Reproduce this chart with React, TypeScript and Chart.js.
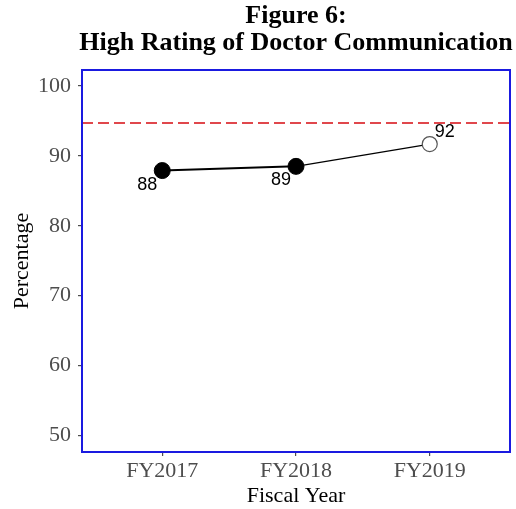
import React, { useEffect, useRef } from "react";
import { Chart, registerables } from "chart.js";

Chart.register(...registerables);

const titleLines = ["Figure 6:", "High Rating of Doctor Communication"];
const categories = ["FY2017", "FY2018", "FY2019"];
const values = [87.9, 88.5, 91.7];
const valueLabels = ["88", "89", "92"];
const filled = [true, true, false];
const benchmark = 94.7;
const yTicks = [50, 60, 70, 80, 90, 100];
const yMin = 47.6;
const yMax = 102.3;
const xTitle = "Fiscal Year";
const yTitle = "Percentage";

const SERIF = "'Liberation Serif', 'Times New Roman', serif";
const SANS = "'Liberation Sans', Arial, sans-serif";

const decorPlugin = {
  id: "decor",
  beforeDatasetsDraw(chart: any) {
    const { ctx, chartArea, scales } = chart;
    const y = scales.y.getPixelForValue(benchmark);
    ctx.save();
    ctx.strokeStyle = "#e0474c";
    ctx.lineWidth = 2;
    ctx.setLineDash([11, 5]);
    ctx.beginPath();
    ctx.moveTo(chartArea.left, y);
    ctx.lineTo(chartArea.right, y);
    ctx.stroke();
    ctx.restore();
  },
  afterDatasetsDraw(chart: any) {
    const { ctx, chartArea } = chart;
    const meta = chart.getDatasetMeta(0);
    ctx.save();
    ctx.fillStyle = "#000";
    ctx.font = `18px ${SANS}`;
    ctx.textAlign = "center";
    ctx.textBaseline = "middle";
    meta.data.forEach((pt: any, i: number) => {
      const above = !filled[i];
      const dx = above ? 15 : -15;
      const dy = above ? -12 : 14;
      ctx.fillText(valueLabels[i], pt.x + dx, pt.y + dy);
    });
    // panel border
    ctx.strokeStyle = "#1a1ae0";
    ctx.lineWidth = 2;
    ctx.setLineDash([]);
    ctx.strokeRect(chartArea.left, chartArea.top, chartArea.right - chartArea.left, chartArea.bottom - chartArea.top);
    // titles
    const cx = (chartArea.left + chartArea.right) / 2;
    ctx.font = `bold 26px ${SERIF}`;
    ctx.textAlign = "center";
    ctx.textBaseline = "alphabetic";
    ctx.fillText(titleLines[0], cx, 23);
    ctx.fillText(titleLines[1], cx, 50);
    ctx.font = `22px ${SERIF}`;
    ctx.fillText(xTitle, cx, 502);
    ctx.translate(22, (chartArea.top + chartArea.bottom) / 2);
    ctx.rotate(-Math.PI / 2);
    ctx.textBaseline = "middle";
    ctx.fillText(yTitle, 0, 0);
    ctx.restore();
  },
};

export default function App() {
  const ref = useRef<HTMLCanvasElement>(null);
  useEffect(() => {
    document.body.style.margin = "0";
    const chart = new Chart(ref.current!, {
      type: "line",
      data: {
        datasets: [
          {
            data: values.map((v, i) => ({ x: i + 1, y: v })),
            borderColor: "#000",
            borderWidth: 2,
            segment: {
              borderWidth: (c: any) => (c.p1DataIndex === 2 ? 1.3 : 2),
            },
            pointRadius: filled.map((f) => (f ? 8 : 7.5)),
            pointBackgroundColor: filled.map((f) => (f ? "#000" : "#fff")),
            pointBorderColor: filled.map((f) => (f ? "#000" : "#555")),
            pointBorderWidth: filled.map((f) => (f ? 1 : 1.2)),
            fill: false,
          },
        ],
      },
      options: {
        responsive: false,
        animation: false,
        layout: { autoPadding: false, padding: { top: 70, right: 6, left: 0, bottom: 0 } },
        plugins: { legend: { display: false }, tooltip: { enabled: false } },
        scales: {
          x: {
            type: "linear",
            min: 0.4,
            max: 3.6,
            afterBuildTicks: (s: any) => {
              s.ticks = categories.map((_, i) => ({ value: i + 1 }));
            },
            afterFit: (s: any) => {
              s.height = 57;
              s.paddingRight = 0;
              s.paddingLeft = 0;
            },
            ticks: {
              callback: (v: any) => categories[Math.round(v) - 1] ?? "",
              font: { family: SERIF, size: 22 },
              color: "#4d4d4d",
              padding: 2,
              maxRotation: 0,
              autoSkip: false,
            },
            grid: { drawOnChartArea: false, drawTicks: true, tickLength: 4, color: "#4d4d4d", lineWidth: 1.2 },
            border: { display: false },
          },
          y: {
            min: yMin,
            max: yMax,
            afterBuildTicks: (s: any) => {
              s.ticks = yTicks.map((v) => ({ value: v }));
            },
            afterFit: (s: any) => {
              s.width = 82;
              s.paddingTop = 0;
              s.paddingBottom = 0;
            },
            ticks: {
              font: { family: SERIF, size: 22 },
              color: "#4d4d4d",
              padding: 7,
            },
            grid: { drawOnChartArea: false, drawTicks: true, tickLength: 4, color: "#4d4d4d", lineWidth: 1.2 },
            border: { display: false },
          },
        },
      },
      plugins: [decorPlugin],
    } as any);
    return () => chart.destroy();
  }, []);
  return (
    <div style={{ width: 516, height: 509, overflow: "hidden" }}>
      <canvas ref={ref} width={516} height={509} style={{ display: "block" }} />
    </div>
  );
}
